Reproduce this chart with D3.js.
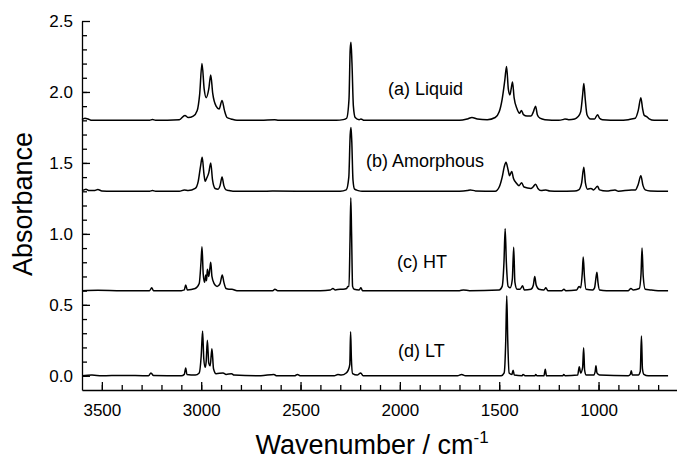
<!DOCTYPE html>
<html>
<head>
<meta charset="utf-8">
<script src="https://cdn.jsdelivr.net/npm/d3@7"></script>
<style>
	body { margin: 0; background: white; }
	text { font-family: "Liberation Sans", Arial, sans-serif; fill: black; }
</style>
</head>
<body>
<svg id="chart"></svg>
<script>
// spectra, [wavenumber, absorbance]
var liquid = [[3600,1.805],[3585,1.815],[3570,1.81],[3550,1.80],[3400,1.80],[3260,1.80],[3245,1.806],[3230,1.80],[3110,1.805],[3082,1.835],[3065,1.82],[3040,1.83],[3020,1.87],[3008,1.98],[2996,2.20],[2985,2.02],[2975,1.96],[2962,2.02],[2952,2.12],[2942,1.99],[2925,1.90],[2910,1.88],[2895,1.94],[2883,1.87],[2870,1.82],[2850,1.81],[2820,1.80],[2700,1.80],[2630,1.805],[2610,1.80],[2320,1.80],[2285,1.805],[2268,1.815],[2256,1.95],[2250,2.30],[2246,2.35],[2241,2.20],[2234,1.90],[2225,1.82],[2205,1.805],[2196,1.81],[2180,1.80],[2000,1.80],[1700,1.80],[1660,1.81],[1637,1.82],[1610,1.81],[1560,1.805],[1520,1.82],[1500,1.86],[1485,1.95],[1472,2.08],[1463,2.18],[1454,2.02],[1446,1.98],[1440,2.02],[1433,2.07],[1425,1.96],[1410,1.88],[1398,1.85],[1388,1.87],[1378,1.84],[1360,1.83],[1340,1.83],[1328,1.86],[1317,1.90],[1308,1.84],[1295,1.815],[1270,1.805],[1200,1.80],[1180,1.805],[1169,1.81],[1150,1.805],[1120,1.81],[1104,1.825],[1090,1.86],[1080,1.98],[1074,2.06],[1067,1.95],[1058,1.84],[1040,1.81],[1020,1.81],[1005,1.84],[995,1.815],[980,1.805],[900,1.80],[850,1.805],[834,1.81],[815,1.815],[800,1.87],[787,1.96],[778,1.88],[770,1.835],[756,1.825],[745,1.81],[720,1.80],[650,1.80]];

var amorphous = [[3600,1.305],[3590,1.31],[3580,1.315],[3565,1.305],[3540,1.305],[3520,1.312],[3500,1.303],[3450,1.30],[3260,1.30],[3245,1.306],[3230,1.30],[3110,1.30],[3085,1.31],[3065,1.305],[3030,1.32],[3015,1.37],[3003,1.48],[2995,1.54],[2986,1.42],[2980,1.37],[2973,1.39],[2962,1.43],[2952,1.50],[2943,1.38],[2930,1.32],[2915,1.315],[2905,1.34],[2895,1.40],[2886,1.34],[2875,1.31],[2860,1.305],[2840,1.30],[2700,1.30],[2640,1.302],[2400,1.30],[2300,1.30],[2270,1.31],[2257,1.40],[2250,1.70],[2246,1.75],[2242,1.65],[2236,1.38],[2228,1.315],[2210,1.305],[2190,1.30],[1700,1.30],[1660,1.305],[1645,1.31],[1620,1.303],[1520,1.30],[1500,1.33],[1485,1.40],[1475,1.47],[1466,1.505],[1455,1.45],[1448,1.41],[1437,1.44],[1428,1.39],[1415,1.36],[1400,1.34],[1387,1.36],[1375,1.33],[1340,1.32],[1330,1.33],[1317,1.35],[1305,1.32],[1290,1.305],[1265,1.31],[1245,1.302],[1200,1.30],[1120,1.302],[1100,1.31],[1085,1.36],[1074,1.47],[1066,1.36],[1055,1.315],[1038,1.32],[1025,1.31],[1005,1.335],[995,1.31],[960,1.302],[917,1.31],[900,1.30],[834,1.31],[815,1.31],[800,1.35],[787,1.41],[776,1.34],[765,1.31],[740,1.302],[650,1.30]];

var ht = [[3600,0.60],[3520,0.603],[3400,0.60],[3260,0.60],[3249,0.62],[3240,0.60],[3100,0.60],[3085,0.605],[3078,0.64],[3070,0.605],[3030,0.615],[3010,0.65],[3001,0.80],[2996,0.91],[2990,0.72],[2983,0.66],[2977,0.71],[2973,0.67],[2969,0.75],[2962,0.70],[2956,0.76],[2952,0.80],[2946,0.70],[2935,0.65],[2920,0.63],[2905,0.65],[2894,0.71],[2886,0.66],[2875,0.615],[2860,0.61],[2845,0.61],[2820,0.60],[2640,0.60],[2629,0.61],[2615,0.60],[2400,0.60],[2350,0.605],[2337,0.615],[2325,0.605],[2300,0.61],[2285,0.61],[2268,0.615],[2262,0.63],[2256,0.63],[2251,0.95],[2247,1.255],[2243,1.00],[2238,0.63],[2230,0.61],[2205,0.605],[2196,0.62],[2188,0.60],[1700,0.60],[1680,0.605],[1650,0.60],[1500,0.605],[1485,0.63],[1476,0.80],[1470,1.037],[1464,0.80],[1455,0.63],[1445,0.62],[1434,0.68],[1427,0.905],[1421,0.66],[1410,0.61],[1395,0.61],[1382,0.634],[1374,0.605],[1340,0.61],[1328,0.64],[1321,0.70],[1314,0.64],[1300,0.61],[1275,0.605],[1265,0.62],[1255,0.60],[1185,0.60],[1174,0.61],[1165,0.60],[1110,0.605],[1098,0.63],[1090,0.62],[1082,0.72],[1077,0.837],[1071,0.70],[1063,0.61],[1030,0.605],[1020,0.62],[1012,0.70],[1008,0.73],[1003,0.66],[995,0.605],[960,0.60],[850,0.60],[837,0.615],[825,0.605],[795,0.615],[786,0.72],[781,0.90],[775,0.70],[765,0.61],[740,0.605],[700,0.60],[650,0.60]];

var lt = [[3600,0.0],[3550,0.005],[3500,0.0],[3400,0.003],[3265,0.0],[3253,0.02],[3240,0.002],[3100,0.0],[3085,0.01],[3078,0.055],[3072,0.01],[3030,0.005],[3010,0.02],[3000,0.14],[2993,0.316],[2987,0.12],[2980,0.06],[2975,0.10],[2969,0.25],[2962,0.09],[2955,0.07],[2946,0.19],[2938,0.05],[2925,0.015],[2890,0.02],[2875,0.01],[2847,0.015],[2835,0.005],[2700,0.0],[2634,0.01],[2620,0.0],[2530,0.0],[2516,0.01],[2500,0.0],[2330,0.0],[2312,0.01],[2295,0.005],[2270,0.02],[2260,0.04],[2252,0.08],[2248,0.31],[2244,0.12],[2238,0.015],[2215,0.005],[2197,0.02],[2185,0.0],[1710,0.0],[1689,0.01],[1670,0.0],[1490,0.0],[1475,0.02],[1467,0.25],[1462,0.564],[1457,0.25],[1450,0.02],[1436,0.01],[1430,0.04],[1424,0.005],[1385,0.0],[1380,0.01],[1370,0.0],[1320,0.0],[1316,0.01],[1310,0.0],[1275,0.0],[1268,0.046],[1262,0.0],[1180,0.0],[1175,0.01],[1168,0.0],[1105,0.005],[1097,0.064],[1090,0.02],[1080,0.06],[1075,0.198],[1070,0.04],[1062,0.005],[1025,0.005],[1017,0.03],[1013,0.07],[1008,0.02],[995,0.005],[850,0.0],[840,0.01],[835,0.036],[830,0.005],[800,0.005],[790,0.03],[784,0.28],[779,0.05],[772,0.01],[750,0.0],[650,0.0]];

var seriesLabels = ["(a) Liquid", "(b) Amorphous", "(c) HT", "(d) LT"];
var labelPos = [[388, 1.98], [366, 1.47], [397, 0.76], [398, 0.13]];
var xTicks = [3500, 3000, 2500, 2000, 1500, 1000];
var yTicks = [0.0, 0.5, 1.0, 1.5, 2.0, 2.5];

draw_chart = function () {
	const width = 677;
	const height = 463;

	var svg = d3.select("#chart").attr("width", width).attr("height", height);

	var x = d3.scaleLinear().domain([3600, 600]).range([82, 678]);
	var y = d3.scaleLinear().domain([-0.1, 2.5]).range([390, 21]);

	// minor ticks first, then major axes on top
	svg.append("g")
		.attr("transform", "translate(0,390)")
		.call(d3.axisBottom(x).tickValues(d3.range(3500, 600, -100)).tickSize(-5).tickFormat(""))
		.call(g => g.select(".domain").remove());
	svg.append("g")
		.attr("transform", "translate(82,0)")
		.call(d3.axisLeft(y).tickValues(d3.range(0, 25).map(d => d / 10)).tickSize(-5).tickFormat(""))
		.call(g => g.select(".domain").remove());

	var xAxis = svg.append("g")
		.attr("transform", "translate(0,390)")
		.call(d3.axisBottom(x).tickValues(xTicks).tickSize(-8).tickSizeOuter(0).tickPadding(14).tickFormat(d3.format("d")));
	var yAxis = svg.append("g")
		.attr("transform", "translate(82,0)")
		.call(d3.axisLeft(y).tickValues(yTicks).tickSize(-8).tickSizeOuter(0).tickPadding(9).tickFormat(d3.format(".1f")));

	svg.selectAll(".tick text").style("font-size", "17px").style("font-family", "Liberation Sans, Arial, sans-serif");
	svg.selectAll(".domain, .tick line").attr("stroke", "black").attr("stroke-width", 1.3);

	var line = d3.line()
		.x(function (d) { return x(d[0]); })
		.y(function (d) { return y(d[1]); })
		.curve(d3.curveMonotoneX);

	svg.selectAll("path.spec")
		.data([liquid, amorphous, ht, lt])
		.enter()
		.append("path")
		.attr("class", "spec")
		.attr("d", line)
		.attr("fill", "none")
		.attr("stroke", "black")
		.attr("stroke-width", 1.5)
		.attr("stroke-linejoin", "round");

	svg.selectAll("text.lab")
		.data(seriesLabels)
		.enter()
		.append("text")
		.attr("class", "lab")
		.attr("x", function (d, i) { return labelPos[i][0]; })
		.attr("y", function (d, i) { return y(labelPos[i][1]); })
		.style("font-size", "18px")
		.text(function (d) { return d; });

	svg.append("text")
		.attr("transform", "translate(32,204) rotate(-90)")
		.attr("text-anchor", "middle")
		.style("font-size", "27px")
		.text("Absorbance");

	var xt = svg.append("text")
		.attr("x", 372)
		.attr("y", 454)
		.attr("text-anchor", "middle")
		.style("font-size", "27px");
	xt.append("tspan").text("Wavenumber / cm");
	xt.append("tspan").attr("dy", -11).style("font-size", "17px").text("-1");
}

draw_chart();
</script>
</body>
</html>
